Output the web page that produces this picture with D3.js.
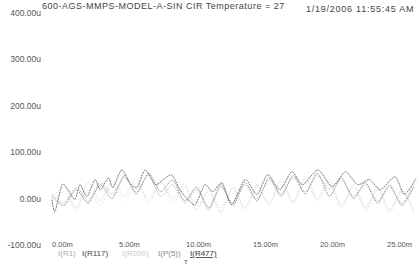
<!DOCTYPE html>
<html><head><meta charset="utf-8">
<script src="https://cdn.jsdelivr.net/npm/d3@7"></script>
<style>html,body{margin:0;padding:0;background:#fff;}svg{display:block;font-family:"Liberation Sans",Arial,sans-serif;}</style>
</head><body>
<svg id="c" width="419" height="265"></svg>
<script>
const title = "600-AGS-MMPS-MODEL-A-SIN CIR Temperature = 27";
const stamp = "1/19/2006 11:55:45 AM";
const yTicks = [-100, 0, 100, 200, 300, 400];
const yTickLabels = ["-100.00u", "0.00u", "100.00u", "200.00u", "300.00u", "400.00u"];
const xTicks = [0, 5, 10, 15, 20, 25];
const xTickLabels = ["0.00m", "5.00m", "10.00m", "15.00m", "20.00m", "25.00m"];
const seriesNames = ["I(R1)", "I(R117)", "I(R200)", "I(P(5))", "I(R477)"];

// time in ms, current in uA
const tR477 = [0,0.22,0.75,1.2,1.7,2.1,2.6,3.2,3.6,4.2,4.55,5.2,5.8,6.35,6.95,7.7,8.3,8.95,9.55,10.15,10.7,11.4,12.0,12.7,13.4,14.4,15.3,16.1,17.0,17.9,18.7,19.85,20.9,21.9,22.8,23.7,24.5,25.6,26.3,27.2];
const iR477 = [-2,-28,30,19,-2,30,4,41,19,45,24,62,34,24,62,30,41,51,19,-2,-13,30,15,34,-13,41,9,52,19,58,30,62,26,58,30,41,19,47,9,45];
const tOther = [0,0.9,1.8,2.7,3.6,4.5,5.4,6.3,7.2,8.1,9.0,9.9,10.8,11.7,12.6,13.5,14.4,15.3,16.2,17.1,18.0,18.9,19.8,20.7,21.6,22.5,23.4,24.3,25.2,26.1,27.0];
const iR1   = [0,25,-20,35,-5,40,5,45,-10,35,0,30,-25,20,-30,25,-20,30,-10,40,-5,45,0,40,-15,30,-20,25,-25,20,-30];
const iR117 = [5,-15,20,-10,30,0,50,10,55,15,40,-5,25,-20,30,-15,35,-5,45,5,50,10,55,5,45,0,35,-10,30,-15,25];
const iR200 = [-5,15,-25,20,-15,30,-5,35,0,40,-10,25,-15,15,-20,20,-25,25,-15,30,-10,35,-5,30,-20,25,-25,20,-30,15,-20];
const iP5   = [10,-10,25,-5,35,10,45,15,50,5,30,-10,20,-25,25,-10,30,0,40,10,45,15,50,20,40,5,30,-5,25,-10,30];

const svg = d3.select("#c");
const x = d3.scaleLinear().domain([0, 25]).range([52, 387]);
const y = d3.scaleLinear().domain([-100, 400]).range([245, 13]);

// title
svg.append("text").attr("x", 42).attr("y", 9).attr("font-size", 9).attr("letter-spacing", 0.5).attr("fill", "#444").text(title);
svg.append("text").attr("x", 306).attr("y", 12).attr("font-size", 9).attr("letter-spacing", 0.75).attr("fill", "#444").text(stamp);

// y axis labels
svg.append("g").selectAll("text").data(yTicks).join("text")
  .attr("x", 41).attr("y", d => y(d)).attr("dy", "0.35em")
  .attr("text-anchor", "end").attr("font-size", 8.5).attr("fill", "#555")
  .text((d, i) => yTickLabels[i]);

// x axis labels
svg.append("g").selectAll("text").data(xTicks).join("text")
  .attr("x", d => x(d)).attr("y", 247)
  .attr("text-anchor", "start").attr("font-size", 7.5).attr("fill", "#555")
  .text((d, i) => xTickLabels[i]);

const mk = (ts, vs) => ts.map((t, i) => [t, vs[i]]);
const gen = d3.line().x(d => x(d[0])).y(d => y(d[1])).curve(d3.curveCardinal.tension(0.3));

const series = [
  {data: mk(tOther, iR1),   color: "#bbb", dash: "1,1.5"},
  {data: mk(tOther, iR117), color: "#777", dash: "1.5,1"},
  {data: mk(tOther, iR200), color: "#ccc", dash: "1,2"},
  {data: mk(tOther, iP5),   color: "#999", dash: "1,1.2"},
  {data: mk(tR477, iR477),  color: "#555", dash: "2,0.8"}
];
svg.append("g").selectAll("path").data(series).join("path")
  .attr("d", d => gen(d.data)).attr("fill", "none")
  .attr("stroke", d => d.color).attr("stroke-width", 0.8)
  .attr("stroke-dasharray", d => d.dash);

// legend
const legX = [58, 82, 122, 158, 190];
const legCol = ["#aaa", "#444", "#ccc", "#888", "#333"];
const lg = svg.append("g");
lg.selectAll("text").data(seriesNames).join("text")
  .attr("x", (d, i) => legX[i]).attr("y", 256)
  .attr("font-size", 8).attr("fill", (d, i) => legCol[i])
  .attr("text-decoration", (d, i) => i === 4 ? "underline" : null)
  .text(d => d);
svg.append("text").attr("x", 184).attr("y", 264).attr("font-size", 6).attr("fill", "#444").text("T");
</script>
</body></html>
